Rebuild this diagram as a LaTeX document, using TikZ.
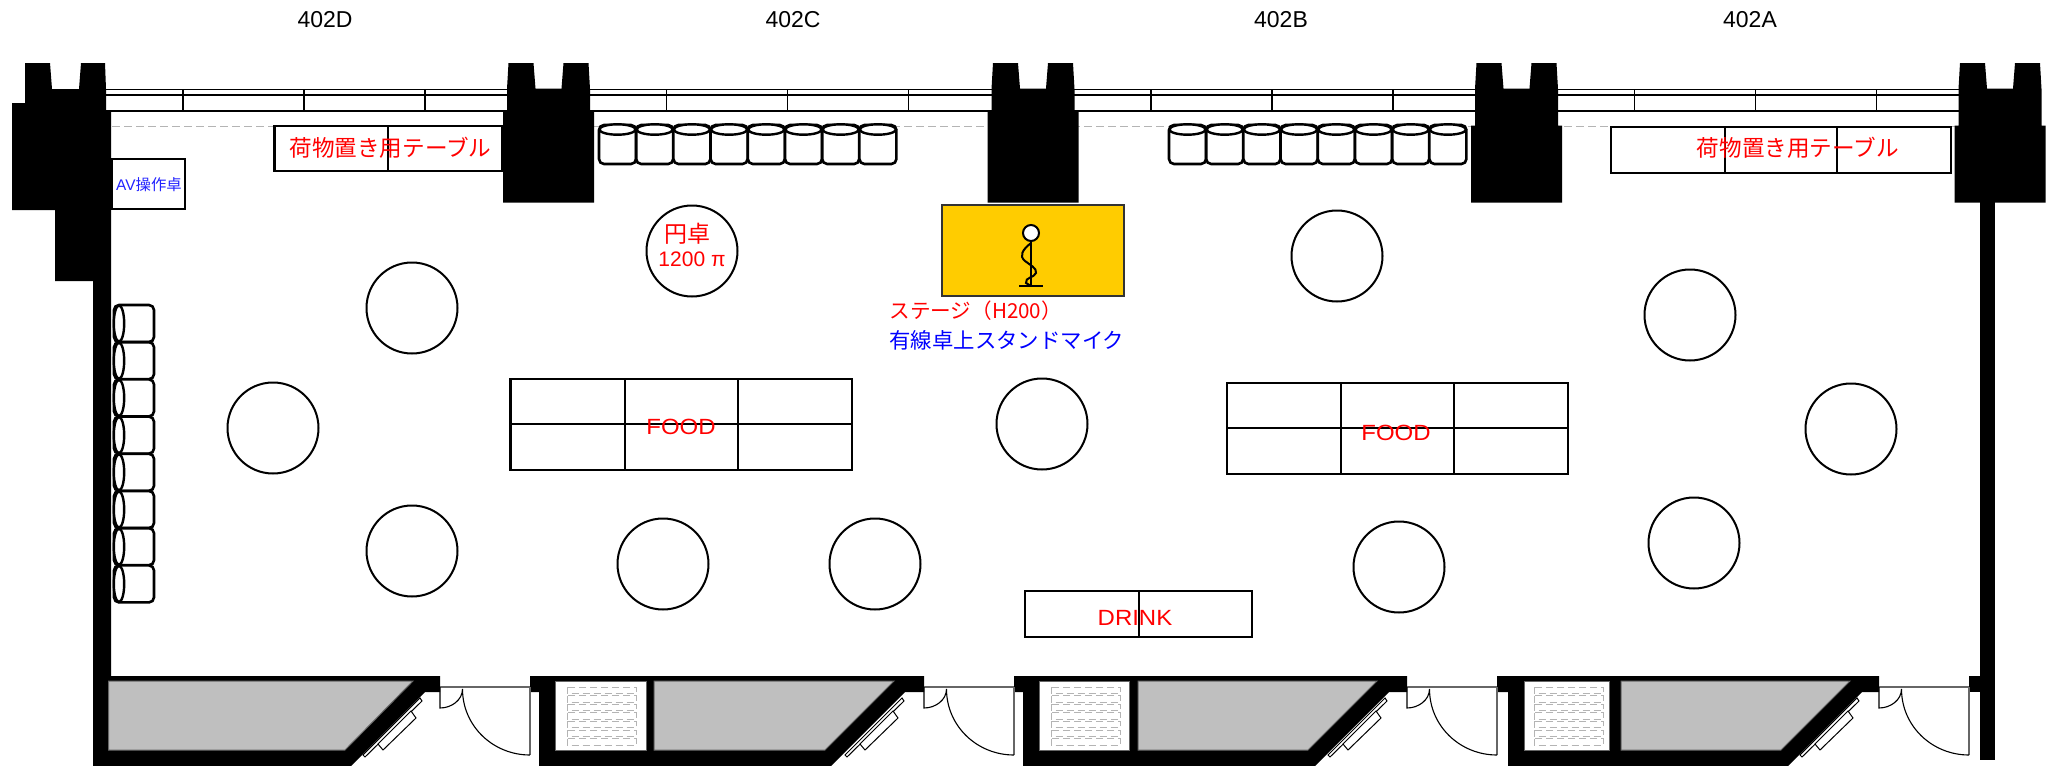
\documentclass[tikz,border=0pt]{standalone}
\usepackage{fontspec}
\setmainfont{Liberation Sans}
\newfontfamily\cjk{Noto Sans CJK JP}
\definecolor{stagey}{HTML}{FFCC00}
\definecolor{roomgray}{HTML}{BFBFBF}
\definecolor{dashgray}{HTML}{B4B4B4}
\definecolor{edgegray}{HTML}{666666}
\tikzset{
  solidblack/.style={fill=black,draw=none},
  tableline/.style={draw=black,line width=1.1pt,fill=white},
  railline/.style={draw=black,line width=0.6pt},
  chairbox/.style={draw=black,line width=1.3pt,fill=white,rounded corners=2.5pt},
  chairtop/.style={draw=black,line width=1.2pt,fill=white},
  roundtable/.style={circle,draw=black,line width=1pt,fill=white,minimum size=45.5pt,inner sep=0pt,align=center},
  redcjk/.style={text=red,inner sep=0pt,font=\cjk\fontsize{11.3}{13}\selectfont},
  bluecjk/.style={text=blue,inner sep=0pt,font=\cjk\fontsize{10.7}{13}\selectfont},
  redlatin/.style={text=red,inner sep=0pt,font=\fontsize{11}{14}\selectfont,xscale=1.09},
  roomlabel/.style={text=black,inner sep=0pt,font=\fontsize{11.5}{14}\selectfont},
  roomfill/.style={fill=roomgray,draw=edgegray,line width=0.5pt},
  closet/.style={fill=white,draw=edgegray,line width=0.5pt},
  shelf/.style={draw=dashgray,line width=0.5pt,dash pattern=on 3.5pt off 2pt},
  doorleaf/.style={draw=black,line width=0.55pt},
  doorhead/.style={draw=edgegray,line width=0.7pt},
  windowpane/.style={draw=black,line width=0.5pt,fill=white},
}
\newcommand{\pillar}[2]{%
  \fill[solidblack] ({#1-40},63) -- ({#1-15},63) -- ({#1-13},88.5) -- ({#1+13},88.5) -- ({#1+15},63) -- ({#1+40},63)
    -- ({#1+41.5},89) -- ({#1+41.5},#2) -- ({#1+45.5},#2) -- ({#1+45.5},202.5) -- ({#1-45.5},202.5) -- ({#1-45.5},#2) -- ({#1-41.5},#2) -- ({#1-41.5},89) -- cycle;}
\newcommand{\railticks}[1]{%
  \draw[railline] ({#1+118},89.5) -- ({#1+118},111) ({#1+239},89.5) -- ({#1+239},111) ({#1+360},89.5) -- ({#1+360},111);}
\newcommand{\doorset}[1]{%
  \draw[doorhead] (#1,687) -- ({#1+90},687);
  \draw[doorhead] ({#1+90},687) -- ({#1+90},755);
  \draw[doorleaf] (#1,687) -- (#1,708) .. controls ({#1+11.5},708) and ({#1+22.5},700) .. ({#1+22.5},689)
     .. controls ({#1+22.5},726) and ({#1+53},755) .. ({#1+90},755);}
\newcommand{\windowset}[1]{%
  \draw[windowpane] ({#1-22},698) -- ({#1-20},701) -- ({#1-77},757) -- ({#1-79},755) -- cycle;
  \draw[windowpane] ({#1-31},711) -- ({#1-26},718) -- ({#1-59},750) -- ({#1-64},744) -- cycle;}
\newcommand{\closetset}[3]{%
  \draw[closet] (#1,681) rectangle (#2,750);
  \foreach \k in {0,...,6}{
    \draw[shelf] (#3,{687+8.6*\k}) rectangle ({#3+69},{693.5+8.6*\k});}}
\newcommand{\chairtoprow}[1]{%
  \foreach \k in {0,...,7}{
    \draw[chairbox] ({#1+37.2*\k},125) rectangle ({#1+37.2*\k+37},164);
    \draw[chairtop] ({#1+37.2*\k+18.5},129.5) circle [x radius=18,y radius=5.2];}}
\begin{document}
\begin{tikzpicture}[x=0.5pt,y=-0.5pt]
\useasboundingbox (0,0) rectangle (2058,766);
% curtain rail
\draw[railline] (106,89.5) -- (1959,89.5) (106,95) -- (1959,95) (106,111) -- (1959,111);
\railticks{65}\railticks{548.5}\railticks{1033}\railticks{1516.5}
% partition line
\draw[draw=dashgray,line width=0.45pt,dash pattern=on 4pt off 2pt] (112,126) -- (1955,126);
% pillars
\fill[solidblack] (25,63) -- (50,63) -- (52,89) -- (79,89) -- (81,63) -- (105,63) -- (106,89) -- (106,111) -- (111,111)
  -- (111,676) -- (440,676) -- (440,692) -- (425,692) -- (351,766) -- (93,766) -- (93,281) -- (55,281) -- (55,210) -- (12,210) -- (12,103) -- (25,103) -- cycle;
\pillar{548.5}{111}
\pillar{1033}{111}
\pillar{1516.5}{125.5}
\pillar{2000}{125.5}
\fill[solidblack] (1980,200) rectangle (1995,760);
\fill[solidblack] (1969,676) rectangle (1981,692);
% bottom wall blocks
\fill[solidblack] (530,676) -- (924,676) -- (924,692) -- (905,692) -- (831,766) -- (539,766) -- (539,692) -- (530,692) -- cycle;
\fill[solidblack] (1014,676) -- (1407,676) -- (1407,692) -- (1389,692) -- (1315,766) -- (1023,766) -- (1023,692) -- (1014,692) -- cycle;
\fill[solidblack] (1497,676) -- (1879,676) -- (1879,692) -- (1862,692) -- (1788,766) -- (1508,766) -- (1508,692) -- (1497,692) -- cycle;
% rooms
\draw[roomfill] (108.5,681) -- (413,681) -- (345,750) -- (108.5,750) -- cycle;
\draw[roomfill] (654,681) -- (894,681) -- (825,750) -- (654,750) -- cycle;
\draw[roomfill] (1138,681) -- (1377,681) -- (1308,750) -- (1138,750) -- cycle;
\draw[roomfill] (1621,681) -- (1850,681) -- (1781,750) -- (1621,750) -- cycle;
\closetset{555}{646}{567}
\closetset{1039}{1129}{1051}
\closetset{1524}{1609}{1534}
% doors
\doorset{440}\doorset{924}\doorset{1407}\doorset{1879}
\windowset{442}\windowset{924}\windowset{1407}\windowset{1879}
% luggage tables
\draw[tableline] (274.5,126) rectangle (502,171);
\draw[tableline] (388,126) -- (388,171);
\node[redcjk] (lug1) at (390.5,148) {荷物置き用テーブル};
\draw[tableline] (1611,127) rectangle (1951,173);
\draw[tableline] (1725,127) -- (1725,173) (1837,127) -- (1837,173);
\node[redcjk] (lug2) at (1798,148) {荷物置き用テーブル};
% AV desk
\draw[tableline] (112,159) rectangle (185,209);
\node[text={rgb,255:red,34;green,34;blue,255},inner sep=0pt,font=\fontsize{7.7}{9}\selectfont] (av) at (149,185) {AV{\cjk 操作卓}};
% chairs
\chairtoprow{599}
\chairtoprow{1169}
\foreach \k in {0,...,7}{
  \draw[chairbox] (114,{305+37.2*\k}) rectangle (154,{305+37.2*\k+37});
  \draw[chairtop] (119,{305+37.2*\k+18.5}) circle [x radius=5.2,y radius=18];
}
% stage
\draw[fill=stagey,draw=black!80,line width=1pt] (942,205) rectangle (1124,296);
\draw[draw=black,line width=1.1pt] (1031,241) -- (1031,286) (1019,286) -- (1043,286);
\draw[draw=black,line width=1pt] (1031,243) .. controls (1022,250) and (1019,256) .. (1025,261)
  .. controls (1030,265) and (1037,268) .. (1036,273) .. controls (1034,278) and (1025,277) .. (1026,283) -- (1031,286);
\node[circle,draw=black,line width=1pt,fill=white,minimum size=8pt,inner sep=0pt] (mic) at (1031,233) {};
\node[redcjk,anchor=west,font=\cjk\fontsize{10.3}{12}\selectfont] (stage) at (889,311) {ステージ（H200）};
\node[bluecjk,anchor=west] (micl) at (889,340) {有線卓上スタンドマイク};
% round tables
\node[roundtable] (t0) at (692,251) {};
\node[text=red,inner sep=0pt,font=\cjk\fontsize{11.5}{13}\selectfont] (t0a) at (687,234) {円卓};
\node[text=red,inner sep=0pt,font=\fontsize{10.5}{12.5}\selectfont] (t0b) at (692,259) {1200 π};
\node[roundtable] (t1) at (412,308) {};
\node[roundtable] (t2) at (273,428) {};
\node[roundtable] (t3) at (412,551) {};
\node[roundtable] (t4) at (663,564) {};
\node[roundtable] (t5) at (875,564) {};
\node[roundtable] (t6) at (1042,424) {};
\node[roundtable] (t7) at (1337,256) {};
\node[roundtable] (t8) at (1690,315) {};
\node[roundtable] (t9) at (1851,429) {};
\node[roundtable] (t10) at (1694,543) {};
\node[roundtable] (t11) at (1399,567) {};
% food tables
\draw[tableline] (510.5,379) rectangle (852,470);
\draw[tableline] (625,379) -- (625,470) (738,379) -- (738,470) (510.5,424) -- (852,424);
\node[redlatin] (food1) at (681,427) {FOOD};
\draw[tableline] (1227,383) rectangle (1568,474);
\draw[tableline] (1341,383) -- (1341,474) (1454,383) -- (1454,474) (1227,428) -- (1568,428);
\node[redlatin] (food2) at (1396,433) {FOOD};
% drink table
\draw[tableline] (1025,591) rectangle (1252,637);
\draw[tableline] (1139,591) -- (1139,637);
\node[redlatin] (drink) at (1135,618) {DRINK};
% room labels
\node[roomlabel] (r4) at (325,19.5) {402D};
\node[roomlabel] (r3) at (793,19.5) {402C};
\node[roomlabel] (r2) at (1281,19.5) {402B};
\node[roomlabel] (r1) at (1750,19.5) {402A};
\end{tikzpicture}
\end{document}
